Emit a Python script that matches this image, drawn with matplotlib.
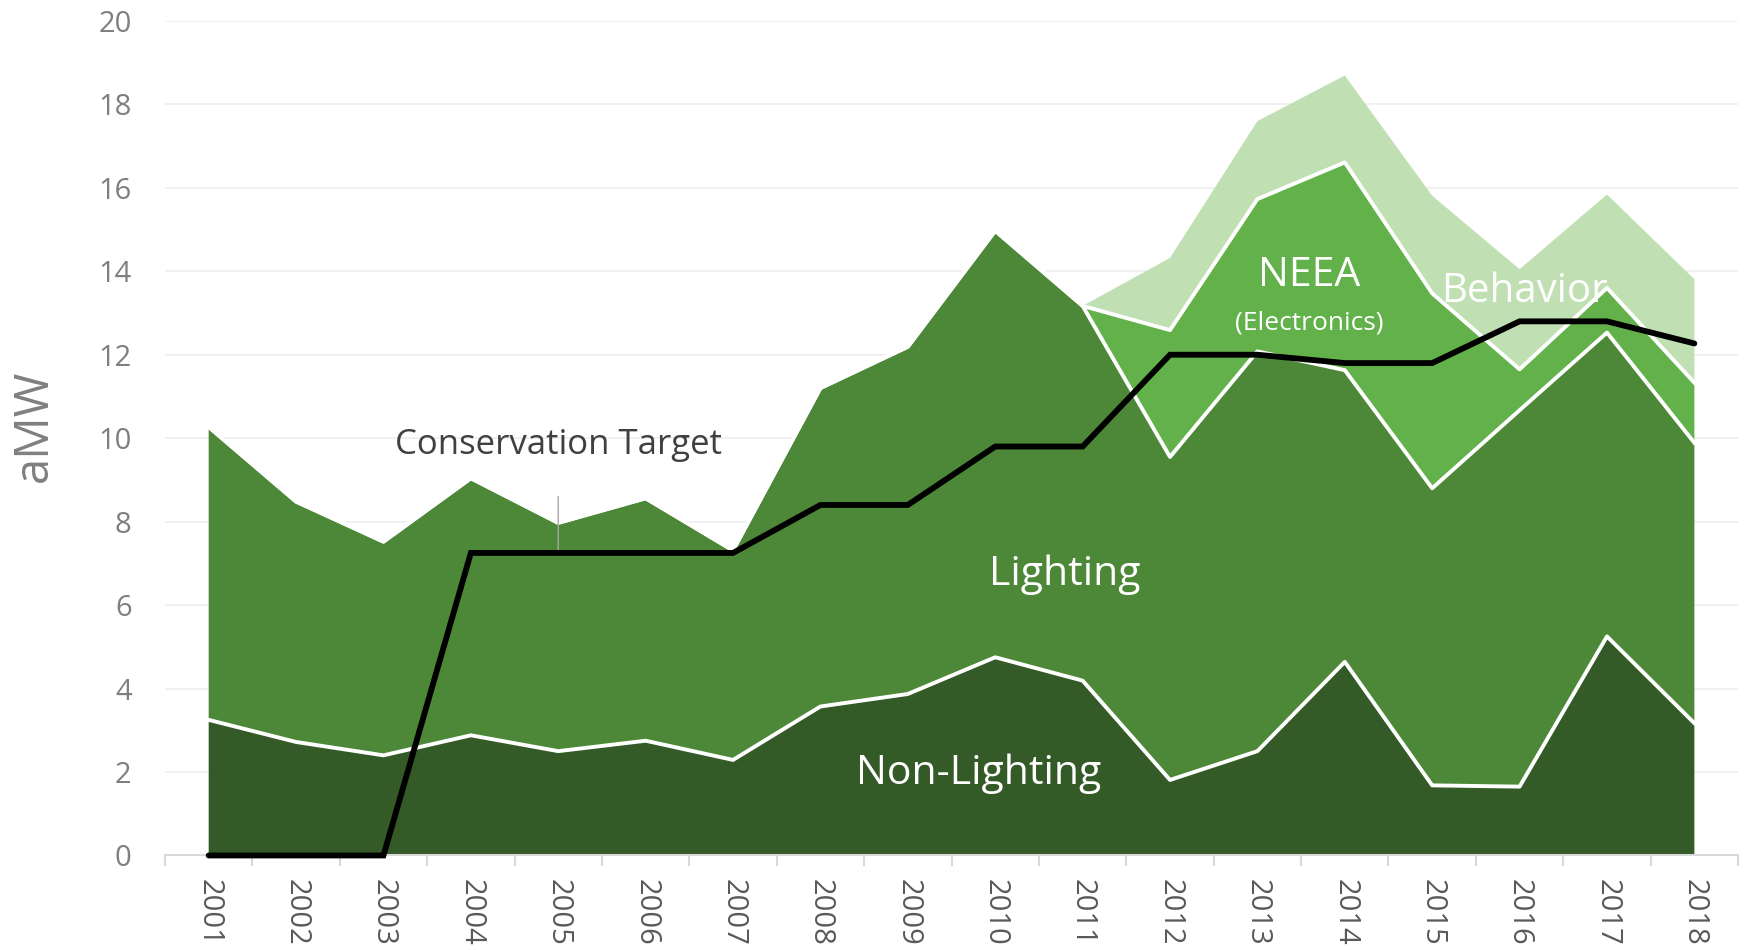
import matplotlib
matplotlib.use('Agg')
import matplotlib.pyplot as plt
import numpy as np

plt.rcParams['font.family'] = ['Open Sans', 'DejaVu Sans']

# Данi: aMW по роках
years = list(range(2001, 2019))
non_lighting = [3.25, 2.72, 2.40, 2.88, 2.50, 2.75, 2.29, 3.57, 3.87, 4.75, 4.19, 1.81, 2.50, 4.64, 1.68, 1.65, 5.25, 3.17]
lighting = [7.02, 5.76, 5.12, 6.16, 5.47, 5.81, 5.02, 7.63, 8.32, 10.22, 8.98, 7.74, 9.58, 6.99, 7.12, 9.02, 7.28, 6.72]
neea = [0, 0, 0, 0, 0, 0, 0, 0, 0, 0, 0, 3.04, 3.65, 4.98, 4.67, 0.98, 1.07, 1.44]
behavior = [0, 0, 0, 0, 0, 0, 0, 0, 0, 0, 0, 1.73, 1.87, 2.08, 2.34, 2.40, 2.24, 2.48]
target = [0, 0, 0, 7.25, 7.25, 7.25, 7.25, 8.4, 8.4, 9.8, 9.8, 12.0, 12.0, 11.8, 11.8, 12.8, 12.8, 12.27]

colors = ['#335a27', '#4c8837', '#63b14a', '#c0e0b3']

fig = plt.figure(figsize=(17.44, 9.5), dpi=100)
ax = fig.add_axes([0.0946, 0.0995, 0.902, 0.8785])

ax.stackplot(years, non_lighting, lighting, neea, behavior, colors=colors, linewidth=0)

# білі лінії між шарами
tops = np.cumsum([non_lighting, lighting, neea], axis=0)
for t in tops:
    ax.plot(years, t, color='white', lw=2.8, zorder=3)

ax.plot(years, target, color='black', lw=4.2, zorder=4,
        solid_capstyle='round', solid_joinstyle='miter', clip_on=False)

ax.set_xlim(2000.5, 2018.5)
ax.set_ylim(0, 20)
ax.set_yticks(range(0, 21, 2))
ax.set_xticks(years)
ax.set_xticks(np.arange(2000.5, 2019, 1), minor=True)
ax.set_xticklabels([str(y) for y in years], rotation=270)

ax.tick_params(axis='y', length=0, pad=24, labelsize=21, labelcolor='#7f7f7f')
ax.tick_params(axis='x', which='major', length=0, pad=17, labelsize=21, labelcolor='#595959')
ax.tick_params(axis='x', which='minor', length=8, width=1.5, color='#d9d9d9')

ax.yaxis.grid(True, color='#efefef', lw=1.3)
ax.set_axisbelow(True)
for s in ['left', 'right', 'top']:
    ax.spines[s].set_visible(False)
ax.spines['bottom'].set_color('#d9d9d9')
ax.spines['bottom'].set_linewidth(1.5)

ax.set_ylabel('aMW', fontsize=34, color='#808080', va='center')
ax.yaxis.set_label_coords(-0.083, 0.515)

# підписи
ax.annotate('Conservation Target', xy=(2005.0, 7.25), xytext=(2005.0, 9.84),
            ha='center', va='center', fontsize=25, color='#404040',
            arrowprops=dict(arrowstyle='-', color='#a6a6a6', lw=1, shrinkA=23, shrinkB=0))
ax.text(2010.8, 6.72, 'Lighting', ha='center', va='center', fontsize=29.5, color='white', zorder=5)
ax.text(2009.81, 1.97, 'Non-Lighting', ha='center', va='center', fontsize=29.5, color='white', zorder=5)
ax.text(2013.59, 13.89, 'NEEA', ha='center', va='center', fontsize=29.5, color='white', zorder=5)
ax.text(2013.59, 12.77, '(Electronics)', ha='center', va='center', fontsize=19, color='white', zorder=5)
ax.text(2016.05, 13.52, 'Behavior', ha='center', va='center', fontsize=29, color='white', zorder=5)

plt.savefig('out.png', dpi=100)
plt.close()
